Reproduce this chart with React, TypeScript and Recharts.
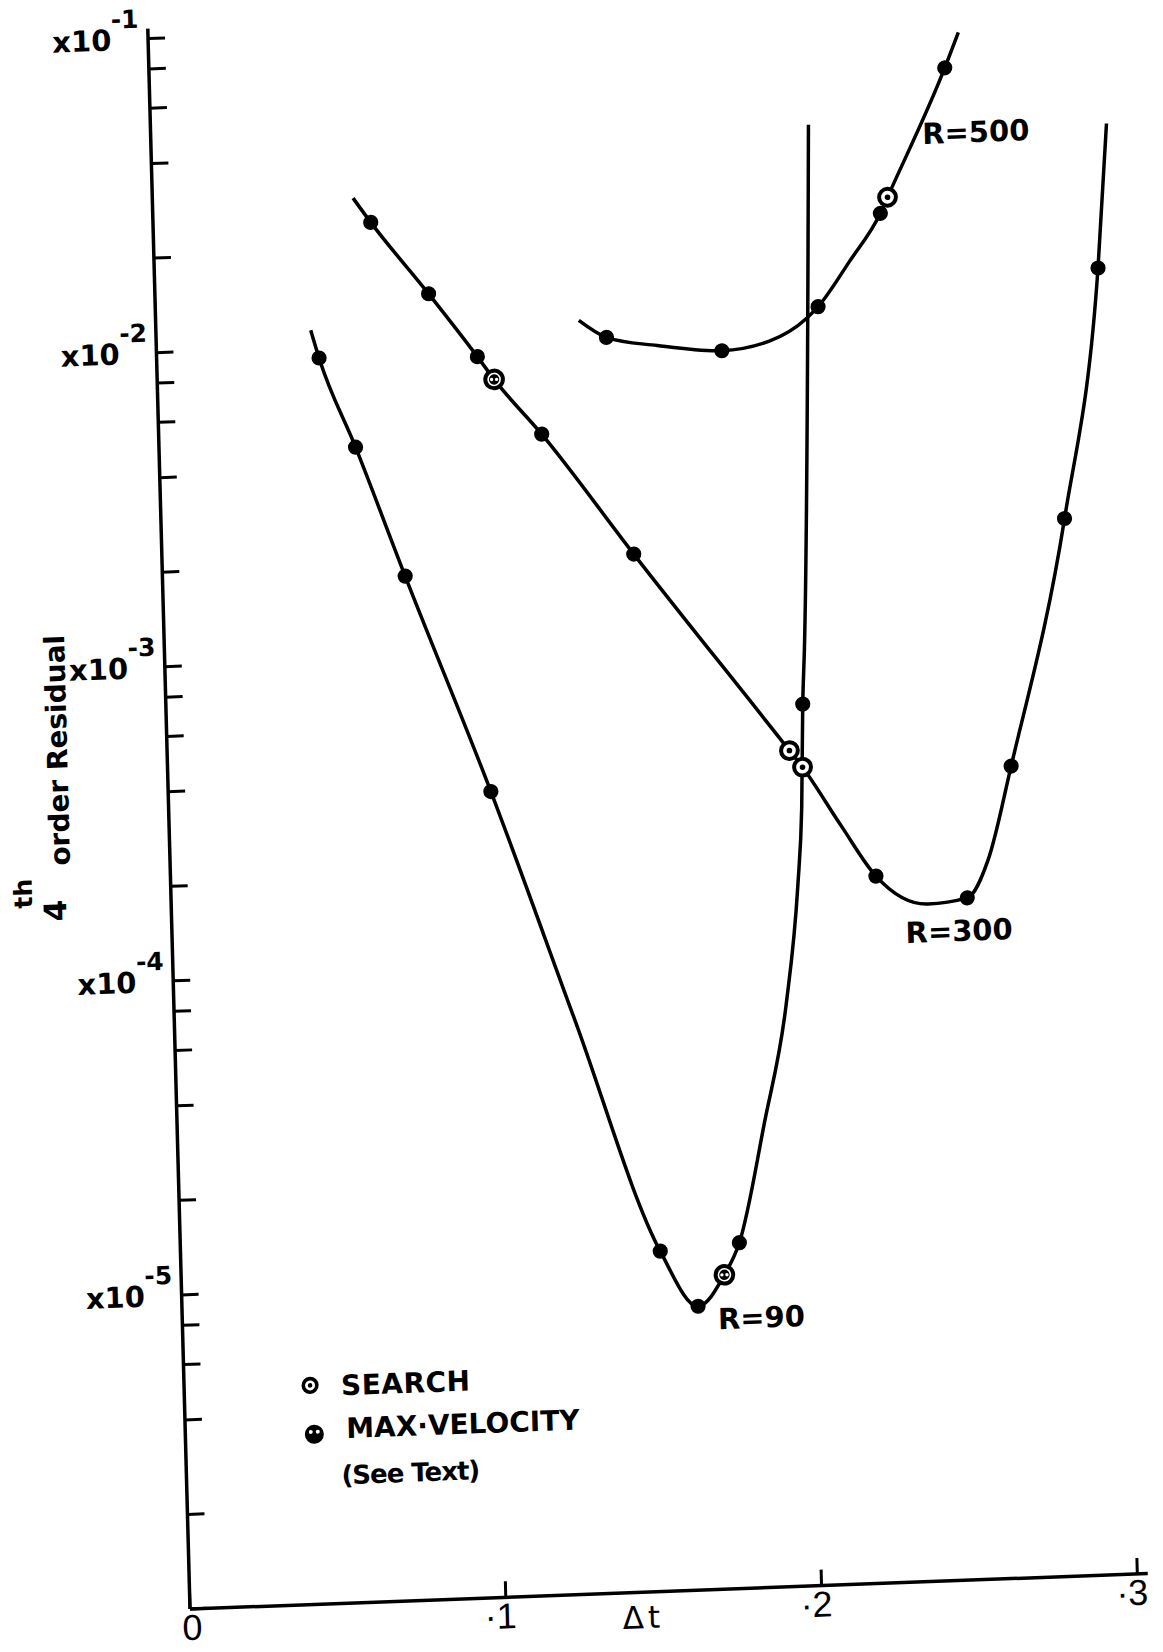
import React from 'react';
import { ComposedChart, Line, XAxis, YAxis } from 'recharts';

type Pt = { x: number; y: number; kind?: 'dot' | 'search' | 'both' };

// Curve R = 90
const r90: Pt[] = [
  { x: 0.049, y: 1.13e-2 },
  { x: 0.0514, y: 9.2e-3, kind: 'dot' },
  { x: 0.0622, y: 4.74e-3, kind: 'dot' },
  { x: 0.0768, y: 1.82e-3, kind: 'dot' },
  { x: 0.1021, y: 3.67e-4, kind: 'dot' },
  { x: 0.1268, y: 6.7e-5 },
  { x: 0.1518, y: 1.21e-5, kind: 'dot' },
  { x: 0.1633, y: 8.0e-6, kind: 'dot' },
  { x: 0.1719, y: 1.0e-5, kind: 'both' },
  { x: 0.1769, y: 1.26e-5, kind: 'dot' },
  { x: 0.1858, y: 3.0e-5 },
  { x: 0.1937, y: 7.1e-5 },
  { x: 0.1984, y: 1.69e-4 },
  { x: 0.2003, y: 3.0e-4 },
  { x: 0.2015, y: 6.4e-4, kind: 'dot' },
  { x: 0.2025, y: 9.6e-4 },
  { x: 0.2082, y: 4.45e-2 },
];

// Curve R = 300
const r300: Pt[] = [
  { x: 0.0635, y: 2.94e-2 },
  { x: 0.0689, y: 2.45e-2, kind: 'dot' },
  { x: 0.0866, y: 1.43e-2, kind: 'dot' },
  { x: 0.1015, y: 8.9e-3, kind: 'dot' },
  { x: 0.1066, y: 7.5e-3, kind: 'both' },
  { x: 0.1212, y: 4.96e-3, kind: 'dot' },
  { x: 0.1493, y: 2.01e-3, kind: 'dot' },
  { x: 0.1969, y: 4.57e-4, kind: 'search' },
  { x: 0.2009, y: 4.03e-4, kind: 'search' },
  { x: 0.2126, y: 2.6e-4 },
  { x: 0.2232, y: 1.78e-4, kind: 'dot' },
  { x: 0.2394, y: 1.43e-4 },
  { x: 0.2519, y: 1.48e-4, kind: 'dot' },
  { x: 0.2588, y: 1.94e-4 },
  { x: 0.2669, y: 3.84e-4, kind: 'dot' },
  { x: 0.2859, y: 2.32e-3, kind: 'dot' },
  { x: 0.2986, y: 1.44e-2, kind: 'dot' },
  { x: 0.3025, y: 4.14e-2 },
];

// Curve R = 500
const r500: Pt[] = [
  { x: 0.1339, y: 1.13e-2 },
  { x: 0.1425, y: 9.9e-3, kind: 'dot' },
  { x: 0.1585, y: 9.2e-3 },
  { x: 0.1789, y: 8.7e-3, kind: 'dot' },
  { x: 0.1938, y: 9.2e-3 },
  { x: 0.2061, y: 1.08e-2 },
  { x: 0.2097, y: 1.17e-2, kind: 'dot' },
  { x: 0.2201, y: 1.62e-2 },
  { x: 0.2302, y: 2.28e-2, kind: 'dot' },
  { x: 0.2326, y: 2.56e-2, kind: 'search' },
  { x: 0.2518, y: 6.5e-2, kind: 'dot' },
  { x: 0.2564, y: 8.4e-2 },
];

const xTicks = [0, 0.1, 0.2, 0.3];
const xTickLabels = ['0', '·1', '·2', '·3'];
const yTicks = [
  1e-6, 2e-6, 4e-6, 6e-6, 8e-6,
  1e-5, 2e-5, 4e-5, 6e-5, 8e-5,
  1e-4, 2e-4, 4e-4, 6e-4, 8e-4,
  1e-3, 2e-3, 4e-3, 6e-3, 8e-3,
  1e-2, 2e-2, 4e-2, 6e-2, 8e-2,
  1e-1,
];
const yLabelExponents = [-1, -2, -3, -4, -5];
const curveLabels = [
  { text: 'R=500', x: 1015, y: 172 },
  { text: 'R=300', x: 977, y: 970 },
  { text: 'R=90', x: 769, y: 1349 },
];

const FONT = '"DejaVu Sans", sans-serif';
const INK = '#000';

const renderMark = (p: any) => {
  const { cx, cy, payload, index } = p;
  const k = payload?.kind;
  const key = `m-${index}-${cx}`;
  if (!k || cx == null || cy == null) return <g key={key} />;
  if (k === 'dot') return <circle key={key} cx={cx} cy={cy} r={7.6} fill={INK} />;
  if (k === 'search')
    return (
      <g key={key}>
        <circle cx={cx} cy={cy} r={8.4} fill="#fff" stroke={INK} strokeWidth={4} />
        <circle cx={cx} cy={cy} r={2.8} fill={INK} />
      </g>
    );
  return (
    <g key={key}>
      <circle cx={cx} cy={cy} r={8.8} fill="#fff" stroke={INK} strokeWidth={4} />
      <circle cx={cx} cy={cy} r={5.2} fill={INK} />
      <circle cx={cx - 2.5} cy={cy} r={1.7} fill="#fff" />
      <circle cx={cx + 2.5} cy={cy} r={1.7} fill="#fff" />
    </g>
  );
};

const XTick = (p: any) => {
  const v = p.payload?.value;
  const i = xTicks.indexOf(v);
  if (i < 0) return <g />;
  const label = xTickLabels[i];
  const x = p.x;
  return (
    <text
      x={i === 0 ? x + 2 : x + 10.5}
      y={1640}
      textAnchor={i === 0 ? 'middle' : 'end'}
      fontFamily='"Liberation Sans", Arial, sans-serif'
      fontSize={36}
      fill={INK}
    >
      {label}
    </text>
  );
};

const YTick = (p: any) => {
  const v = p.payload?.value;
  const e = Math.round(Math.log10(v));
  if (Math.abs(Math.log10(v) - e) > 1e-6 || !yLabelExponents.includes(e)) return <g />;
  return (
    <text x={181} y={p.y + 10.6} textAnchor="end" fontFamily={FONT} fontWeight="bold" fontSize={29} fill={INK}>
      x10
      <tspan dy={-22} fontSize={25}>{`-${-e}`}</tspan>
    </text>
  );
};

export default function App() {
  return (
    <div style={{ position: 'absolute', left: 0, top: 0, width: 1163, height: 1652, overflow: 'hidden', background: '#fff' }}>
      <div
        style={{
          position: 'absolute',
          left: 0,
          top: 0,
          width: 1163,
          height: 1700,
          transform: 'matrix(0.99931,-0.037,0.0267,0.99964,0,0)',
          transformOrigin: '190px 1609px',
        }}
      >
        <ComposedChart width={1163} height={1700} margin={{ top: 28, right: 14.6, bottom: 61, left: 130 }}>
          <XAxis
            type="number"
            dataKey="x"
            domain={[0, 0.3033]}
            ticks={xTicks}
            interval={0}
            allowDataOverflow
            height={30}
            tickSize={-16}
            axisLine={{ stroke: INK, strokeWidth: 3.5 }}
            tickLine={{ stroke: INK, strokeWidth: 3 }}
            tick={(p: any) => <XTick {...p} />}
          />
          <YAxis
            type="number"
            dataKey="y"
            scale="log"
            domain={[1e-6, 0.1076]}
            ticks={yTicks}
            interval={0}
            allowDataOverflow
            width={60}
            tickSize={-17}
            axisLine={{ stroke: INK, strokeWidth: 3.5 }}
            tickLine={{ stroke: INK, strokeWidth: 3 }}
            tick={(p: any) => <YTick {...p} />}
          />
          <Line data={r90} dataKey="y" type="monotone" stroke={INK} strokeWidth={3.5} dot={renderMark} activeDot={false} isAnimationActive={false} />
          <Line data={r300} dataKey="y" type="monotone" stroke={INK} strokeWidth={3.5} dot={renderMark} activeDot={false} isAnimationActive={false} />
          <Line data={r500} dataKey="y" type="monotone" stroke={INK} strokeWidth={3.5} dot={renderMark} activeDot={false} isAnimationActive={false} />
        </ComposedChart>
        <svg width={1163} height={1700} style={{ position: 'absolute', left: 0, top: 0, pointerEvents: 'none' }}>
          {/* axis title */}
          <text x={90} y={746} transform="rotate(-90 90 746)" textAnchor="middle" fontFamily={FONT} fontWeight="bold" fontSize={28} fill={INK}>
            order Residual
          </text>
          <text x={85} y={906} transform="rotate(-90 85 906)" textAnchor="middle" fontFamily={FONT} fontWeight="bold" fontSize={31} fill={INK}>
            4
          </text>
          <text x={51} y={888} transform="rotate(-90 51 888)" textAnchor="middle" fontFamily={FONT} fontWeight="bold" fontSize={25} fill={INK}>
            th
          </text>
          <text x={643} y={1645} textAnchor="middle" fontFamily={FONT} fontSize={31} letterSpacing={4} fill={INK}>
            Δt
          </text>
          {curveLabels.map((c) => (
            <text key={c.text} x={c.x} y={c.y} textAnchor="middle" fontFamily={FONT} fontWeight="bold" fontSize={29} fill={INK}>
              {c.text}
            </text>
          ))}
          {/* legend */}
          <circle cx={316} cy={1390} r={6.8} fill="#fff" stroke={INK} strokeWidth={3.6} />
          <circle cx={316} cy={1390} r={2.3} fill={INK} />
          <text x={347} y={1401} fontFamily={FONT} fontWeight="bold" fontSize={28} letterSpacing={0.5} fill={INK}>
            SEARCH
          </text>
          <circle cx={319} cy={1439} r={9.5} fill={INK} />
          <circle cx={315.5} cy={1436.5} r={2} fill="#fff" />
          <circle cx={322.5} cy={1436.5} r={2} fill="#fff" />
          <text x={351} y={1444} fontFamily={FONT} fontWeight="bold" fontSize={28} fill={INK}>
            MAX·VELOCITY
          </text>
          <text x={345} y={1490} fontFamily={FONT} fontWeight="bold" fontSize={26} letterSpacing={-1} fill={INK}>
            (See Text)
          </text>
        </svg>
      </div>
    </div>
  );
}
